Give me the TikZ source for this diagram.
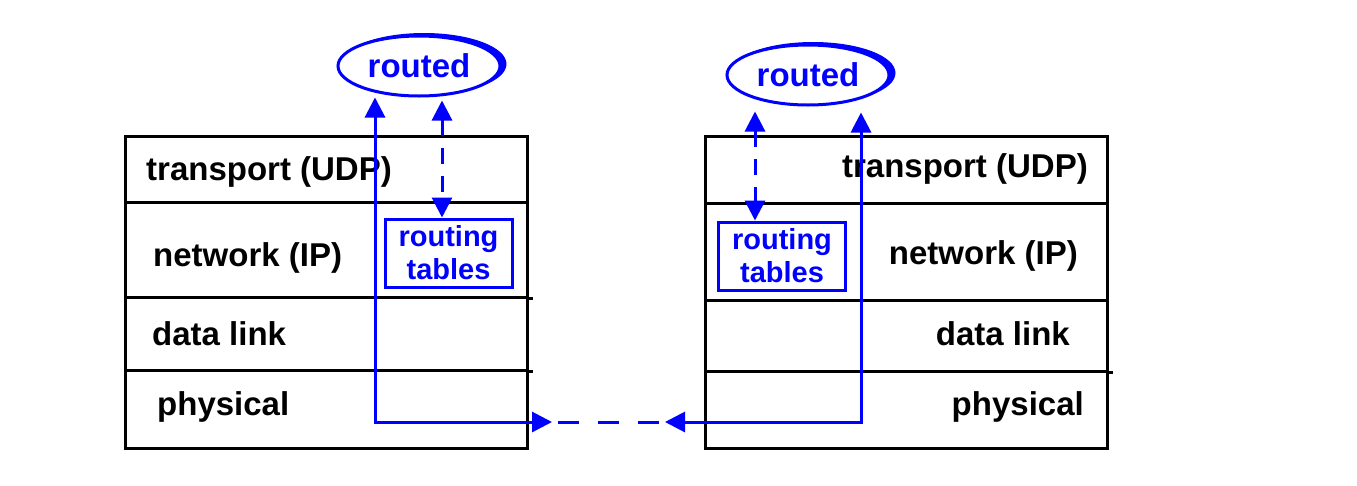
\documentclass[tikz,border=0pt]{standalone}
\usepackage{fontspec}
\setmainfont{Liberation Sans}
\usetikzlibrary{shapes.geometric,arrows.meta,calc}
\definecolor{netblue}{RGB}{0,0,255}

\begin{document}
\begin{tikzpicture}[x=1pt,y=-1pt,
  layer/.style={draw=black, line width=3pt, minimum width=402pt, inner sep=0pt},
  lbl/.style={font=\fontsize{33}{36}\selectfont\bfseries, inner sep=0pt, text=black},
  daemon/.style={ellipse, draw=netblue, line width=3pt, fill=white,
    minimum width=162pt, minimum height=60pt, inner sep=0pt, text=netblue,
    font=\fontsize{33}{36}\selectfont\bfseries},
  daemonshade/.style={ellipse, fill=netblue, minimum width=165pt,
    minimum height=62pt, inner sep=0pt},
  tablebox/.style={draw=netblue, line width=3pt, text=netblue, align=center,
    minimum width=127pt, minimum height=68pt, inner sep=0pt,
    font=\fontsize{29}{33}\selectfont\bfseries},
  link/.style={draw=netblue, line width=3pt},
  bigtip/.tip={Triangle[width=20pt,length=20pt]},
  bothtips/.style={bigtip-bigtip},
  dashlink/.style={link, dash pattern=on 16pt off 12pt}
]
\useasboundingbox (0,0) rectangle (1357,485);

% ---- left protocol stack ----
\node[layer, minimum height=66pt] (LT) at (326,169) {};
\node[layer, minimum height=95pt] (LN) at (326,249.5) {};
\node[layer, minimum height=73pt] (LD) at (326,333.5) {};
\node[layer, minimum height=78pt] (LP) at (326,409) {};
\draw[black, line width=3pt] (LN.south east) -- ++(4,0);
\draw[black, line width=3pt] (LD.south east) -- ++(4,0);

% ---- right protocol stack ----
\node[layer, minimum height=67pt] (RT) at (906,169.5) {};
\node[layer, minimum height=97pt] (RN) at (906,251.5) {};
\node[layer, minimum height=71pt] (RD) at (906,335.5) {};
\node[layer, minimum height=77pt] (RP) at (906,409.5) {};
\draw[black, line width=3pt] (RD.south east) -- ++(4,0);

% ---- routing daemons ----
\node[daemonshade] (RLs) at (424,64) {};
\node[daemon] (RL) at (419,66) {routed};
\node[daemonshade] (RRs) at (813,73) {};
\node[daemon] (RR) at (808,75) {routed};

% ---- routing tables ----
\node[tablebox] (TL) at (448.5,253) {routing\\tables};
\node[tablebox] (TR) at (782,256) {routing\\tables};

% ---- connectors ----
\coordinate (lcorner) at (375,422);
\coordinate (rcorner) at (861,422);
\coordinate (gapL) at (552,422);
\coordinate (gapR) at (665,422);
\coordinate (ldash) at (442,0);
\coordinate (rdash) at (755,0);

\draw[link, bothtips] (lcorner |- RL.south) -- (lcorner) -- (gapL);
\draw[link, bothtips, shorten <=6pt] (rcorner |- RR.south) -- (rcorner) -- (gapR);
\draw[link, dash pattern=on 21pt off 19pt, shorten <=6pt, shorten >=5pt] (gapL) -- (gapR);
\draw[dashlink, bothtips, shorten <=3pt] (ldash |- RL.south) -- (ldash |- TL.north);
\draw[dashlink, bothtips, shorten <=5pt] (rdash |- RR.south) -- (rdash |- TR.north);

% ---- layer labels ----
\node[lbl, anchor=base west] (LTt) at (146,180) {transport (UDP)};
\node[lbl, anchor=base west] (LNt) at (153,266) {network (IP)};
\node[lbl, anchor=base west] (LDt) at (152,345) {data link};
\node[lbl, anchor=base west] (LPt) at (157,415) {physical};

\node[lbl, anchor=base east] (RTt) at (1088,177) {transport (UDP)};
\node[lbl, anchor=base east] (RNt) at (1078,264) {network (IP)};
\node[lbl, anchor=base east] (RDt) at (1070,345) {data link};
\node[lbl, anchor=base east] (RPt) at (1084,415) {physical};

% blue risers run over the transport labels
\draw[link] (375,150) -- (375,200);
\draw[link] (861,150) -- (861,200);
\end{tikzpicture}
\end{document}
